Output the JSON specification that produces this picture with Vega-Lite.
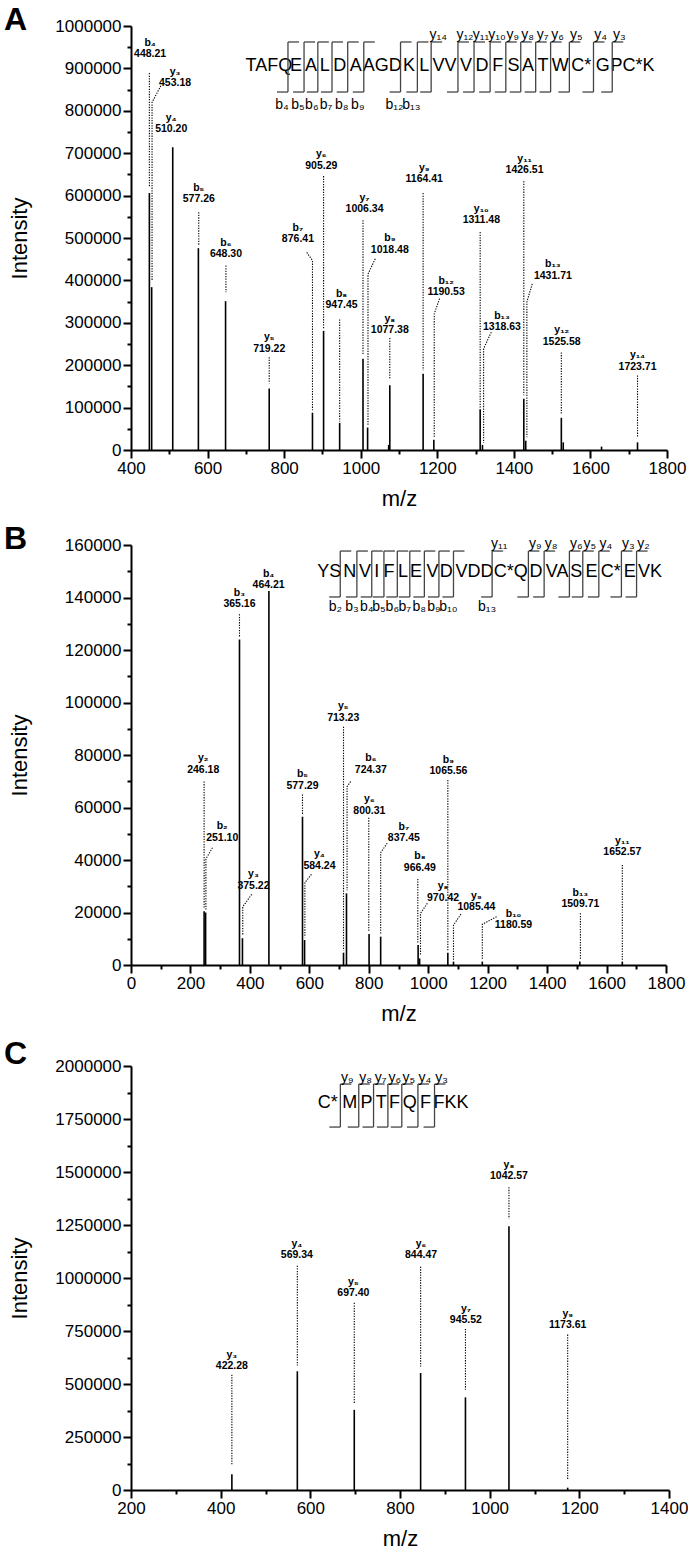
{
"$schema":"https://vega.github.io/schema/vega-lite/v6.json",
"padding":{"left":4,"top":4,"right":0,"bottom":0},
"spacing":14,
"config":{"font":"Liberation Sans","view":{"stroke":null},
"axis":{"domainWidth":2,"tickWidth":2,"domainColor":"#000","tickColor":"#000","labelFontSize":17,"labelColor":"#000","titleFontSize":22,"titleFontWeight":"normal","titleColor":"#000","labelPadding":2,"tickSize":8,"titlePadding":12,"grid":false,"labelFont":"Liberation Sans","titleFont":"Liberation Sans"},
"title":{"font":"Liberation Sans","fontSize":32,"fontWeight":"bold","color":"#000","anchor":"start","frame":"group","offset":-20,"baseline":"alphabetic","dx":-127}},
"datasets":{
"peaksA":[{"mz":448,"i":606000},{"mz":454,"i":384000},{"mz":509,"i":714000},{"mz":576,"i":476000},{"mz":647,"i":351000},{"mz":761,"i":145000},{"mz":874,"i":88000},{"mz":903,"i":281000},{"mz":945,"i":64000},{"mz":1006,"i":215000},{"mz":1018,"i":53000},{"mz":1073,"i":12000},{"mz":1076,"i":153000},{"mz":1163,"i":180000},{"mz":1191,"i":24000},{"mz":1312,"i":96000},{"mz":1318,"i":12000},{"mz":1426,"i":121000},{"mz":1431,"i":22000},{"mz":1524,"i":76000},{"mz":1529,"i":18000},{"mz":1629,"i":8000},{"mz":1723,"i":18000}],
"labA":[{"n":"b₄","v":"448.21","mz":450,"i":933000},{"n":"y₃","v":"453.18","mz":515,"i":865000},{"n":"y₄","v":"510.20","mz":505,"i":757000},{"n":"b₅","v":"577.26","mz":577,"i":591000},{"n":"b₆","v":"648.30","mz":648,"i":462000},{"n":"y₅","v":"719.22","mz":761,"i":239000},{"n":"b₇","v":"876.41","mz":836,"i":497000},{"n":"y₆","v":"905.29","mz":897,"i":670000},{"n":"b₈","v":"947.45","mz":950,"i":341000},{"n":"y₇","v":"1006.34","mz":1010,"i":568000},{"n":"b₉","v":"1018.48","mz":1076,"i":472000},{"n":"y₈","v":"1077.38","mz":1076,"i":282000},{"n":"y₉","v":"1164.41","mz":1166,"i":638000},{"n":"b₁₂","v":"1190.53","mz":1223,"i":372000},{"n":"y₁₀","v":"1311.48","mz":1315,"i":542000},{"n":"b₁₃","v":"1318.63","mz":1369,"i":290000},{"n":"y₁₁","v":"1426.51","mz":1428,"i":660000},{"n":"b₁₃","v":"1431.71","mz":1502,"i":411000},{"n":"y₁₂","v":"1525.58","mz":1525,"i":255000},{"n":"y₁₄","v":"1723.71","mz":1723,"i":196000}],
"leadA":[{"k":"b4","o":1,"mz":448,"i":889000},{"k":"b4","o":2,"mz":448,"i":622000},
{"k":"y3","o":1,"mz":478,"i":859000},{"k":"y3","o":2,"mz":455,"i":820000},{"k":"y3","o":3,"mz":455,"i":400000},
{"k":"b5","o":1,"mz":577,"i":561000},{"k":"b5","o":2,"mz":577,"i":482000},
{"k":"b6","o":1,"mz":648,"i":435000},{"k":"b6","o":2,"mz":648,"i":372000},
{"k":"y5","o":1,"mz":761,"i":219000},{"k":"y5","o":2,"mz":761,"i":157000},
{"k":"b7","o":1,"mz":859,"i":466000},{"k":"b7","o":2,"mz":874,"i":447000},{"k":"b7","o":3,"mz":874,"i":94000},
{"k":"y6","o":1,"mz":903,"i":646000},{"k":"y6","o":2,"mz":903,"i":286000},
{"k":"b8","o":1,"mz":945,"i":308000},{"k":"b8","o":2,"mz":945,"i":67000},
{"k":"y7","o":1,"mz":1006,"i":542000},{"k":"y7","o":2,"mz":1006,"i":225000},
{"k":"b9","o":1,"mz":1038,"i":451000},{"k":"b9","o":2,"mz":1019,"i":415000},{"k":"b9","o":3,"mz":1019,"i":58000},
{"k":"y8","o":1,"mz":1076,"i":264000},{"k":"y8","o":2,"mz":1076,"i":168000},
{"k":"y9","o":1,"mz":1163,"i":606000},{"k":"y9","o":2,"mz":1163,"i":188000},
{"k":"b12","o":1,"mz":1206,"i":357000},{"k":"b12","o":2,"mz":1192,"i":321000},{"k":"b12","o":3,"mz":1192,"i":30000},
{"k":"y10","o":1,"mz":1312,"i":514000},{"k":"y10","o":2,"mz":1312,"i":100000},
{"k":"b13a","o":1,"mz":1341,"i":278000},{"k":"b13a","o":2,"mz":1321,"i":239000},{"k":"b13a","o":3,"mz":1321,"i":17000},
{"k":"y11","o":1,"mz":1426,"i":634000},{"k":"y11","o":2,"mz":1426,"i":129000},
{"k":"b13b","o":1,"mz":1448,"i":392000},{"k":"b13b","o":2,"mz":1434,"i":349000},{"k":"b13b","o":3,"mz":1434,"i":30000},
{"k":"y12","o":1,"mz":1524,"i":230000},{"k":"y12","o":2,"mz":1524,"i":86000},
{"k":"y14","o":1,"mz":1723,"i":176000},{"k":"y14","o":2,"mz":1723,"i":31000}],
"seqA":[{"s":"TAFQ","mz":760},{"s":"E","mz":831},{"s":"A","mz":870},{"s":"L","mz":906},{"s":"D","mz":945},{"s":"A","mz":987},{"s":"AGD","mz":1056},{"s":"K","mz":1126},{"s":"L","mz":1166},{"s":"VV","mz":1219},{"s":"V","mz":1275},{"s":"D","mz":1317},{"s":"F","mz":1358},{"s":"S","mz":1399},{"s":"A","mz":1437},{"s":"T","mz":1476},{"s":"W","mz":1521},{"s":"C*","mz":1576},{"s":"G","mz":1632},{"s":"PC*K","mz":1710}],
"brA":[{"b":810,"bl":"b₄","yl":""},{"b":852,"bl":"b₅","yl":""},{"b":888,"bl":"b₆","yl":""},{"b":925,"bl":"b₇","yl":""},{"b":966,"bl":"b₈","yl":""},{"b":1008,"bl":"b₉","yl":""},{"b":1104,"bl":"b₁₂","yl":""},{"b":1148,"bl":"b₁₃","yl":""},{"b":1184,"bl":"","yl":"y₁₄"},{"b":1254,"bl":"","yl":"y₁₂"},{"b":1296,"bl":"","yl":"y₁₁"},{"b":1338,"bl":"","yl":"y₁₀"},{"b":1379,"bl":"","yl":"y₉"},{"b":1418,"bl":"","yl":"y₈"},{"b":1457,"bl":"","yl":"y₇"},{"b":1496,"bl":"","yl":"y₆"},{"b":1545,"bl":"","yl":"y₅"},{"b":1608,"bl":"","yl":"y₄"},{"b":1657,"bl":"","yl":"y₃"}],
"peaksB":[{"mz":246,"i":20500},{"mz":251,"i":20000},{"mz":365,"i":124000},{"mz":375,"i":10200},{"mz":464,"i":142500},{"mz":577,"i":56500},{"mz":584,"i":9500},{"mz":715,"i":4700},{"mz":725,"i":27300},{"mz":801,"i":11800},{"mz":840,"i":10800},{"mz":966,"i":7600},{"mz":971,"i":2500},{"mz":1066,"i":4700},{"mz":1085,"i":1300},{"mz":1182,"i":1300},{"mz":1510,"i":1300},{"mz":1653,"i":1300}],
"labB":[{"n":"y₂","v":"246.18","mz":243,"i":74300},{"n":"b₂","v":"251.10","mz":307,"i":48500},{"n":"b₃","v":"365.16","mz":365,"i":137500},{"n":"y₃","v":"375.22","mz":412,"i":30200},{"n":"b₄","v":"464.21","mz":463,"i":144700},{"n":"b₅","v":"577.29","mz":577,"i":68300},{"n":"y₄","v":"584.24","mz":634,"i":37800},{"n":"y₅","v":"713.23","mz":714,"i":94200},{"n":"b₆","v":"724.37","mz":807,"i":74300},{"n":"y₆","v":"800.31","mz":802,"i":58800},{"n":"b₇","v":"837.45","mz":918,"i":48300},{"n":"b₈","v":"966.49","mz":972,"i":37100},{"n":"y₈","v":"970.42","mz":1050,"i":25700},{"n":"b₉","v":"1065.56","mz":1068,"i":73900},{"n":"y₉","v":"1085.44","mz":1162,"i":22000},{"n":"b₁₀","v":"1180.59","mz":1287,"i":15200},{"n":"b₁₃","v":"1509.71","mz":1512,"i":23200},{"n":"y₁₁","v":"1652.57","mz":1653,"i":42900}],
"leadB":[{"k":"y2","o":1,"mz":246,"i":69900},{"k":"y2","o":2,"mz":246,"i":21600},
{"k":"b2","o":1,"mz":274,"i":44700},{"k":"b2","o":2,"mz":252,"i":40400},{"k":"b2","o":3,"mz":252,"i":21000},
{"k":"y3","o":1,"mz":406,"i":26900},{"k":"y3","o":2,"mz":376,"i":22200},{"k":"y3","o":3,"mz":376,"i":11500},
{"k":"b3","o":1,"mz":365,"i":133600},{"k":"b3","o":2,"mz":365,"i":125000},
{"k":"b5","o":1,"mz":577,"i":65000},{"k":"b5","o":2,"mz":577,"i":57500},
{"k":"y4","o":1,"mz":607,"i":34500},{"k":"y4","o":2,"mz":585,"i":31400},{"k":"y4","o":3,"mz":585,"i":10500},
{"k":"y5","o":1,"mz":715,"i":90800},{"k":"y5","o":2,"mz":715,"i":5500},
{"k":"b6","o":1,"mz":739,"i":69900},{"k":"b6","o":2,"mz":727,"i":67900},{"k":"b6","o":3,"mz":727,"i":28500},
{"k":"y6","o":1,"mz":800,"i":56100},{"k":"y6","o":2,"mz":800,"i":13000},
{"k":"b7","o":1,"mz":862,"i":46400},{"k":"b7","o":2,"mz":840,"i":42800},{"k":"b7","o":3,"mz":840,"i":11800},
{"k":"b8","o":1,"mz":965,"i":32800},{"k":"b8","o":2,"mz":965,"i":8500},
{"k":"y8","o":1,"mz":997,"i":23500},{"k":"y8","o":2,"mz":974,"i":19700},{"k":"y8","o":3,"mz":974,"i":3500},
{"k":"b9","o":1,"mz":1066,"i":70500},{"k":"b9","o":2,"mz":1066,"i":5500},
{"k":"y9","o":1,"mz":1110,"i":19400},{"k":"y9","o":2,"mz":1085,"i":15200},{"k":"y9","o":3,"mz":1085,"i":2000},
{"k":"b10","o":1,"mz":1230,"i":18400},{"k":"b10","o":2,"mz":1182,"i":15500},{"k":"b10","o":3,"mz":1182,"i":2000},
{"k":"b13","o":1,"mz":1512,"i":19700},{"k":"b13","o":2,"mz":1512,"i":2000},
{"k":"y11","o":1,"mz":1653,"i":38100},{"k":"y11","o":2,"mz":1653,"i":2000}],
"seqB":[{"s":"YS","mz":667},{"s":"N","mz":736},{"s":"V","mz":787},{"s":"I","mz":827},{"s":"F","mz":868},{"s":"L","mz":915},{"s":"E","mz":959},{"s":"V","mz":1014},{"s":"D","mz":1061},{"s":"VDD","mz":1156},{"s":"C*Q","mz":1278},{"s":"D","mz":1363},{"s":"VA","mz":1434},{"s":"S","mz":1498},{"s":"E","mz":1549},{"s":"C*","mz":1614},{"s":"E","mz":1678},{"s":"VK","mz":1746}],
"brB":[{"b":704,"bl":"b₂","yl":""},{"b":760,"bl":"b₃","yl":""},{"b":810,"bl":"b₄","yl":""},{"b":851,"bl":"b₅","yl":""},{"b":896,"bl":"b₆","yl":""},{"b":938,"bl":"b₇","yl":""},{"b":987,"bl":"b₈","yl":""},{"b":1036,"bl":"b₉","yl":""},{"b":1085,"bl":"b₁₀","yl":""},{"b":1215,"bl":"b₁₃","yl":"y₁₁"},{"b":1337,"bl":"","yl":"y₉"},{"b":1390,"bl":"","yl":"y₈"},{"b":1475,"bl":"","yl":"y₆"},{"b":1520,"bl":"","yl":"y₅"},{"b":1574,"bl":"","yl":"y₄"},{"b":1650,"bl":"","yl":"y₃"},{"b":1701,"bl":"","yl":"y₂"}],
"peaksC":[{"mz":425,"i":74000},{"mz":571,"i":560000},{"mz":698,"i":378000},{"mz":846,"i":552000},{"mz":946,"i":437000},{"mz":1043,"i":1244000},{"mz":1174,"i":11000}],
"labC":[{"n":"y₃","v":"422.28","mz":425,"i":583500},{"n":"y₄","v":"569.34","mz":570,"i":1110000},{"n":"y₅","v":"697.40","mz":696,"i":930000},{"n":"y₆","v":"844.47","mz":847,"i":1110000},{"n":"y₇","v":"945.52","mz":947,"i":804000},{"n":"y₈","v":"1042.57","mz":1043,"i":1483000},{"n":"y₉","v":"1173.61","mz":1174,"i":780000}],
"leadC":[{"k":"y3","o":1,"mz":425,"i":544000},{"k":"y3","o":2,"mz":425,"i":118000},
{"k":"y4","o":1,"mz":571,"i":1058000},{"k":"y4","o":2,"mz":571,"i":587000},
{"k":"y5","o":1,"mz":698,"i":883000},{"k":"y5","o":2,"mz":698,"i":410000},
{"k":"y6","o":1,"mz":846,"i":1053000},{"k":"y6","o":2,"mz":846,"i":583000},
{"k":"y7","o":1,"mz":946,"i":760000},{"k":"y7","o":2,"mz":946,"i":473000},
{"k":"y8","o":1,"mz":1043,"i":1428000},{"k":"y8","o":2,"mz":1043,"i":1279000},
{"k":"y9","o":1,"mz":1174,"i":733000},{"k":"y9","o":2,"mz":1174,"i":50000}],
"seqC":[{"s":"C*","mz":639},{"s":"M","mz":688},{"s":"P","mz":725},{"s":"T","mz":758},{"s":"F","mz":788},{"s":"Q","mz":822},{"s":"F","mz":857},{"s":"FKK","mz":914}],
"brC":[{"b":667,"bl":"","yl":"y₉"},{"b":708,"bl":"","yl":"y₈"},{"b":741,"bl":"","yl":"y₇"},{"b":773,"bl":"","yl":"y₆"},{"b":804,"bl":"","yl":"y₅"},{"b":840,"bl":"","yl":"y₄"},{"b":877,"bl":"","yl":"y₃"}]
},
"vconcat":[
{"width":536,"height":424,"title":{"text":"A"},
"layer":[
{"data":{"name":"peaksA"},"mark":{"type":"rule","color":"#000","strokeWidth":1.6},
"encoding":{"x":{"field":"mz","type":"quantitative","scale":{"domain":[400,1800],"nice":false,"zero":false},"axis":{"values":[400,600,800,1000,1200,1400,1600,1800],"title":"m/z","format":"d","labelFlush":false}},
"y":{"field":"i","type":"quantitative","scale":{"domain":[0,1000000],"nice":false},"axis":{"values":[0,100000,200000,300000,400000,500000,600000,700000,800000,900000,1000000],"title":"Intensity","format":"d","titleX":-100}},"y2":{"datum":0}}},
{"data":{"name":"leadA"},"mark":{"type":"line","color":"#000","strokeWidth":1.1,"strokeDash":[1.3,1.3]},
"encoding":{"x":{"field":"mz","type":"quantitative","axis":{"orient":"bottom","values":[500,700,900,1100,1300,1500,1700],"labels":false,"domain":false,"tickSize":4,"title":null}},
"y":{"field":"i","type":"quantitative","axis":{"orient":"left","values":[50000,150000,250000,350000,450000,550000,650000,750000,850000,950000],"labels":false,"domain":false,"tickSize":4,"title":null}},"detail":{"field":"k"},"order":{"field":"o"}}},
{"data":{"name":"labA"},"mark":{"type":"text","fontSize":10.5,"fontWeight":"bold","dy":-11.5,"color":"#000"},
"encoding":{"x":{"field":"mz","type":"quantitative","axis":null},"y":{"field":"i","type":"quantitative","axis":null},"text":{"field":"n"}}},
{"data":{"name":"labA"},"mark":{"type":"text","fontSize":10.5,"fontWeight":"bold","color":"#000"},
"encoding":{"x":{"field":"mz","type":"quantitative","axis":null},"y":{"field":"i","type":"quantitative","axis":null},"text":{"field":"v"}}},
{"data":{"name":"seqA"},"mark":{"type":"text","fontSize":18,"color":"#000"},
"encoding":{"x":{"field":"mz","type":"quantitative","axis":null},"y":{"datum":905000,"axis":null},"text":{"field":"s"}}},
{"data":{"name":"brA"},"mark":{"type":"rule","color":"#444","strokeWidth":1.3},
"encoding":{"x":{"field":"b","type":"quantitative","axis":null},"y":{"datum":962300,"axis":null},"y2":{"datum":844300}}},
{"data":{"name":"brA"},"mark":{"type":"rule","color":"#444","strokeWidth":1.3,"x2Offset":11},
"encoding":{"x":{"field":"b","type":"quantitative","axis":null},"x2":{"field":"b"},"y":{"datum":962300,"axis":null}}},
{"data":{"name":"brA"},"mark":{"type":"rule","color":"#444","strokeWidth":1.3,"xOffset":-11},
"encoding":{"x":{"field":"b","type":"quantitative","axis":null},"x2":{"field":"b"},"y":{"datum":844300,"axis":null}}},
{"data":{"name":"brA"},"mark":{"type":"text","fontSize":14,"dx":7,"color":"#000"},
"encoding":{"x":{"field":"b","type":"quantitative","axis":null},"y":{"datum":978800,"axis":null},"text":{"field":"yl"}}},
{"data":{"name":"brA"},"mark":{"type":"text","fontSize":14,"dx":-6,"color":"#000"},
"encoding":{"x":{"field":"b","type":"quantitative","axis":null},"y":{"datum":813700,"axis":null},"text":{"field":"bl"}}}
],
"resolve":{"axis":{"x":"independent","y":"independent"}}},
{"width":535,"height":420,"title":{"text":"B"},
"layer":[
{"data":{"name":"peaksB"},"mark":{"type":"rule","color":"#000","strokeWidth":1.6},
"encoding":{"x":{"field":"mz","type":"quantitative","scale":{"domain":[0,1800],"nice":false,"zero":false},"axis":{"values":[0,200,400,600,800,1000,1200,1400,1600,1800],"title":"m/z","format":"d","labelFlush":false}},
"y":{"field":"i","type":"quantitative","scale":{"domain":[0,160000],"nice":false},"axis":{"values":[0,20000,40000,60000,80000,100000,120000,140000,160000],"title":"Intensity","format":"d","titleX":-100}},"y2":{"datum":0}}},
{"data":{"name":"leadB"},"mark":{"type":"line","color":"#000","strokeWidth":1.1,"strokeDash":[1.3,1.3]},
"encoding":{"x":{"field":"mz","type":"quantitative","axis":{"orient":"bottom","values":[100,300,500,700,900,1100,1300,1500,1700],"labels":false,"domain":false,"tickSize":4,"title":null}},
"y":{"field":"i","type":"quantitative","axis":{"orient":"left","values":[10000,30000,50000,70000,90000,110000,130000,150000],"labels":false,"domain":false,"tickSize":4,"title":null}},"detail":{"field":"k"},"order":{"field":"o"}}},
{"data":{"name":"labB"},"mark":{"type":"text","fontSize":10.5,"fontWeight":"bold","dy":-11.5,"color":"#000"},
"encoding":{"x":{"field":"mz","type":"quantitative","axis":null},"y":{"field":"i","type":"quantitative","axis":null},"text":{"field":"n"}}},
{"data":{"name":"labB"},"mark":{"type":"text","fontSize":10.5,"fontWeight":"bold","color":"#000"},
"encoding":{"x":{"field":"mz","type":"quantitative","axis":null},"y":{"field":"i","type":"quantitative","axis":null},"text":{"field":"v"}}},
{"data":{"name":"seqB"},"mark":{"type":"text","fontSize":18,"color":"#000"},
"encoding":{"x":{"field":"mz","type":"quantitative","axis":null},"y":{"datum":149700,"axis":null},"text":{"field":"s"}}},
{"data":{"name":"brB"},"mark":{"type":"rule","color":"#444","strokeWidth":1.3},
"encoding":{"x":{"field":"b","type":"quantitative","axis":null},"y":{"datum":157700,"axis":null},"y2":{"datum":140200}}},
{"data":{"name":"brB"},"mark":{"type":"rule","color":"#444","strokeWidth":1.3,"x2Offset":11},
"encoding":{"x":{"field":"b","type":"quantitative","axis":null},"x2":{"field":"b"},"y":{"datum":157700,"axis":null}}},
{"data":{"name":"brB"},"mark":{"type":"rule","color":"#444","strokeWidth":1.3,"xOffset":-11},
"encoding":{"x":{"field":"b","type":"quantitative","axis":null},"x2":{"field":"b"},"y":{"datum":140200,"axis":null}}},
{"data":{"name":"brB"},"mark":{"type":"text","fontSize":14,"dx":7,"color":"#000"},
"encoding":{"x":{"field":"b","type":"quantitative","axis":null},"y":{"datum":160500,"axis":null},"text":{"field":"yl"}}},
{"data":{"name":"brB"},"mark":{"type":"text","fontSize":14,"dx":-5,"color":"#000"},
"encoding":{"x":{"field":"b","type":"quantitative","axis":null},"y":{"datum":136500,"axis":null},"text":{"field":"bl"}}}
],
"resolve":{"axis":{"x":"independent","y":"independent"}}},
{"width":538,"height":424,"title":{"text":"C","offset":-14},
"layer":[
{"data":{"name":"peaksC"},"mark":{"type":"rule","color":"#000","strokeWidth":1.6},
"encoding":{"x":{"field":"mz","type":"quantitative","scale":{"domain":[200,1400],"nice":false,"zero":false},"axis":{"values":[200,400,600,800,1000,1200,1400],"title":"m/z","format":"d","labelFlush":false}},
"y":{"field":"i","type":"quantitative","scale":{"domain":[0,2000000],"nice":false},"axis":{"values":[0,250000,500000,750000,1000000,1250000,1500000,1750000,2000000],"title":"Intensity","format":"d","titleX":-100}},"y2":{"datum":0}}},
{"data":{"name":"leadC"},"mark":{"type":"line","color":"#000","strokeWidth":1.1,"strokeDash":[1.3,1.3]},
"encoding":{"x":{"field":"mz","type":"quantitative","axis":{"orient":"bottom","values":[300,500,700,900,1100,1300],"labels":false,"domain":false,"tickSize":4,"title":null}},
"y":{"field":"i","type":"quantitative","axis":{"orient":"left","values":[125000,375000,625000,875000,1125000,1375000,1625000,1875000],"labels":false,"domain":false,"tickSize":4,"title":null}},"detail":{"field":"k"},"order":{"field":"o"}}},
{"data":{"name":"labC"},"mark":{"type":"text","fontSize":10.5,"fontWeight":"bold","dy":-11,"color":"#000"},
"encoding":{"x":{"field":"mz","type":"quantitative","axis":null},"y":{"field":"i","type":"quantitative","axis":null},"text":{"field":"n"}}},
{"data":{"name":"labC"},"mark":{"type":"text","fontSize":10.5,"fontWeight":"bold","color":"#000"},
"encoding":{"x":{"field":"mz","type":"quantitative","axis":null},"y":{"field":"i","type":"quantitative","axis":null},"text":{"field":"v"}}},
{"data":{"name":"seqC"},"mark":{"type":"text","fontSize":18,"color":"#000"},
"encoding":{"x":{"field":"mz","type":"quantitative","axis":null},"y":{"datum":1825000,"axis":null},"text":{"field":"s"}}},
{"data":{"name":"brC"},"mark":{"type":"rule","color":"#444","strokeWidth":1.3},
"encoding":{"x":{"field":"b","type":"quantitative","axis":null},"y":{"datum":1915000,"axis":null},"y2":{"datum":1712000}}},
{"data":{"name":"brC"},"mark":{"type":"rule","color":"#444","strokeWidth":1.3,"x2Offset":11},
"encoding":{"x":{"field":"b","type":"quantitative","axis":null},"x2":{"field":"b"},"y":{"datum":1915000,"axis":null}}},
{"data":{"name":"brC"},"mark":{"type":"rule","color":"#444","strokeWidth":1.3,"xOffset":-11},
"encoding":{"x":{"field":"b","type":"quantitative","axis":null},"x2":{"field":"b"},"y":{"datum":1712000,"axis":null}}},
{"data":{"name":"brC"},"mark":{"type":"text","fontSize":14,"dx":7,"color":"#000"},
"encoding":{"x":{"field":"b","type":"quantitative","axis":null},"y":{"datum":1943000,"axis":null},"text":{"field":"yl"}}}
],
"resolve":{"axis":{"x":"independent","y":"independent"}}}
]
}
